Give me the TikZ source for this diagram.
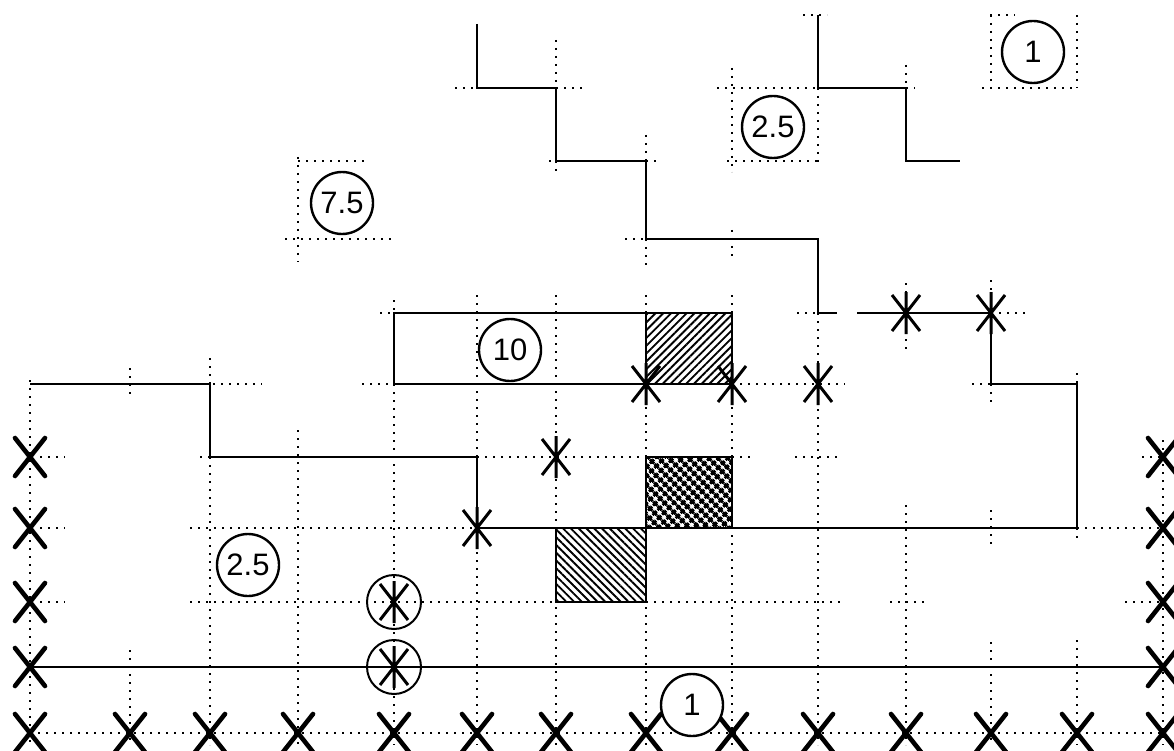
\documentclass[tikz,border=0pt]{standalone}
\usepackage{fontspec}
\setmainfont{Liberation Sans}
\usetikzlibrary{patterns.meta}
\begin{document}
\begin{tikzpicture}[x=1pt,y=-1pt,
  gridline/.style={line width=2.2pt, dash pattern=on 2.2pt off 5.8pt},
  solidline/.style={line width=2.2pt},
  sqedge/.style={line width=2.8pt},
  xmark/.pic={\draw[line width=4.6pt,line cap=round] (-15,-19)--(15,19) (-15,19)--(15,-19);},
  asterisk/.pic={\draw[line width=3pt] (0,-21)--(0,21) (-14,-18)--(14,18) (-14,18)--(14,-18);},
  numcirc/.style={circle, draw, line width=2.4pt, fill=white, minimum size=62pt, inner sep=0pt, font=\fontsize{31}{31}\selectfont},
  ringcirc/.style={circle, draw, line width=2pt, minimum size=54pt, inner sep=0pt}
]
\useasboundingbox (0,0) rectangle (1174,751);
% grid points
\foreach \xx [count=\i from 0] in {30,130,210,298,394,477,556,646,732,818,906,991,1077,1163}{
  \foreach \yy [count=\j from 0] in {733,667,602,528,457,384,313,239,161,88,15}{
    \coordinate (g\i-\j) at (\xx,\yy);
  }
}
% vertical dotted segments  x / y1 / y2
\foreach \xx/\ya/\yb in {30/380/745, 130/368/398, 130/650/745, 210/358/384, 210/457/745,
  298/157/262, 298/430/745, 394/300/313, 394/384/745, 477/295/457, 477/528/745,
  556/40/88, 556/161/175, 556/295/745, 646/135/161, 646/239/265, 646/295/745,
  732/68/172, 732/230/258, 732/295/745, 818/88/163, 818/313/745,
  906/65/88, 906/283/352, 906/505/745,
  991/15/88, 991/280/313, 991/384/403, 991/510/548, 991/642/745,
  1077/15/88, 1077/373/384, 1077/528/540, 1077/640/745, 1163/440/745}{
  \draw[gridline] (\xx,\ya) -- (\xx,\yb);
}
% horizontal dotted segments  y / x1 / x2
\foreach \yy/\xa/\xb in {733/30/1163,
  602/40/65, 602/190/840, 602/890/925, 602/1125/1163,
  528/40/65, 528/190/477, 528/1077/1163,
  457/40/65, 457/200/210, 457/477/646, 457/732/753, 457/795/840, 457/1142/1163,
  384/213/262, 384/362/394, 384/732/845, 384/972/991,
  313/380/394, 313/797/818, 313/991/1025,
  239/285/395, 239/625/646,
  161/298/365, 161/549/556, 161/646/660, 161/727/818,
  88/455/477, 88/556/582, 88/717/818, 88/906/915, 88/982/1077,
  15/803/827, 15/990/1015}{
  \draw[gridline] (\xa,\yy) -- (\xb,\yy);
}
% solid contour lines
\draw[solidline] (477,24) -- (g5-9) -- (g6-9) -- (g6-8) -- (g7-8) -- (g7-7) -- (g9-7) -- (g9-6) -- (837,313);
\draw[solidline] (857,313) -- (g11-6) -- (g11-5) -- (g12-5) -- (g12-3) -- (g5-3) -- (g5-4) -- (g2-4) -- (g2-5) -- (g0-5);
\draw[solidline] (g9-10) -- (g9-9) -- (g10-9) -- (g10-8) -- (960,161);
\draw[solidline] (g4-6) rectangle (g7-5);
\draw[solidline] (g0-1) -- (g13-1);
% hatched squares
\draw[sqedge, pattern={Lines[angle=45,distance=5.5pt,line width=1.9pt]}] (g7-6) rectangle (g8-5);
\draw[sqedge, pattern={Hatch[angle=45,distance=6.5pt,line width=3.2pt]}] (g7-4) rectangle (g8-3);
\draw[sqedge, pattern={Lines[angle=-45,distance=5.5pt,line width=1.9pt]}] (g6-3) rectangle (g7-2);
% X marks
\foreach \i in {0,...,13}{ \pic at (g\i-0) {xmark}; }
\foreach \j in {1,...,4}{ \pic at (g0-\j) {xmark}; \pic at (g13-\j) {xmark}; }
% asterisks
\foreach \p in {g10-6,g11-6,g7-5,g8-5,g9-5,g6-4,g5-3,g4-2,g4-1}{ \pic at (\p) {asterisk}; }
\node[ringcirc] (ring1) at (g4-2) {};
\node[ringcirc] (ring2) at (g4-1) {};
% numbered circles
\node[numcirc] (n1top) at (1033,52) {1};
\node[numcirc] (n25top) at (773,127) {2.5};
\node[numcirc] (n75) at (342,203) {7.5};
\node[numcirc] (n10) at (510,350) {10};
\node[numcirc] (n25low) at (248,565) {2.5};
\node[numcirc] (n1bot) at (692,705) {1};
\end{tikzpicture}
\end{document}
